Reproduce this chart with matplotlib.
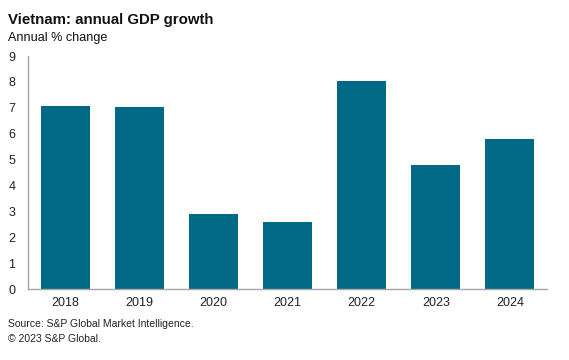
import matplotlib
matplotlib.use("Agg")
import matplotlib.pyplot as plt

years = ["2018", "2019", "2020", "2021", "2022", "2023", "2024"]
growth = [7.08, 7.02, 2.91, 2.58, 8.02, 4.8, 5.8]

plt.rcParams['font.family'] = ['Liberation Sans', 'DejaVu Sans']

W, H = 569, 360
fig = plt.figure(figsize=(W / 100, H / 100), dpi=100)
ax = fig.add_axes([28 / W, 1 - 289 / H, 519 / W, 233 / H])

ax.bar(range(len(years)), growth, width=0.66, color='#006a86')
ax.set_xlim(-0.5, len(years) - 0.5)
ax.set_ylim(0, 9)
ax.set_yticks(range(10))
ax.set_xticks(range(len(years)))
ax.set_xticklabels(years)

for s in ('top', 'right'):
    ax.spines[s].set_visible(False)
for s in ('left', 'bottom'):
    ax.spines[s].set_color('#a6a6a6')
    ax.spines[s].set_linewidth(1.0)
ax.tick_params(axis='both', length=0, labelsize=9, colors='#222222')
ax.tick_params(axis='y', pad=9)
ax.tick_params(axis='x', pad=6)

fig.text(8 / W, 1 - 24 / H, 'Vietnam: annual GDP growth', fontsize=10.8,
         fontweight='bold', va='baseline', color='#111111')
fig.text(8 / W, 1 - 40.5 / H, 'Annual % change', fontsize=9.1,
         va='baseline', color='#111111')
fig.text(8 / W, 1 - 327 / H, 'Source: S&P Global Market Intelligence.',
         fontsize=7.5, va='baseline', color='#222222')
fig.text(8 / W, 1 - 342 / H, '\u00a9 2023 S&P Global.',
         fontsize=7.5, va='baseline', color='#222222')

fig.savefig('out.png', dpi=100)
